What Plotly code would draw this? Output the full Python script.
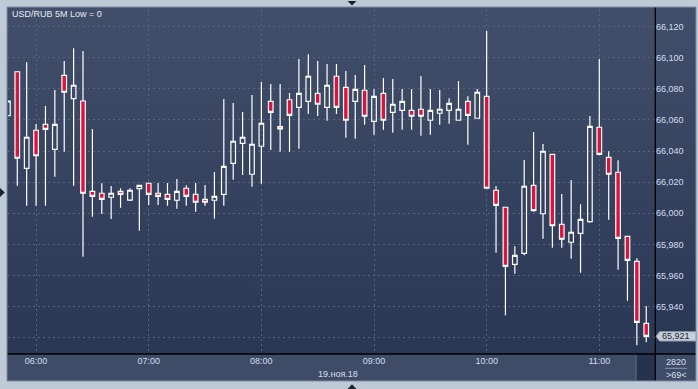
import base64
import pandas as pd
import plotly.graph_objects as go

# ---------------- data ----------------
times = pd.date_range("2018-11-19 05:45", periods=69, freq="5min")

open_ = [66.0627, 66.0910, 66.0289, 66.0534, 66.0572, 66.0411, 66.0887, 66.0737, 66.0722, 66.0141,
         66.0129, 66.0103, 66.0141, 66.0085, 66.0158, 66.0193, 66.0129, 66.0122, 66.0084, 66.0161,
         66.0122, 66.0090, 66.0084, 66.0122, 66.0321, 66.0450, 66.0251, 66.0431, 66.0720, 66.0557,
         66.0730, 66.0681, 66.0720, 66.0771, 66.0681, 66.0881, 66.0810, 66.0720, 66.0791, 66.0591,
         66.0771, 66.0649, 66.0662, 66.0662, 66.0669, 66.0598, 66.0643, 66.0662, 66.0598, 66.0720,
         66.0611, 66.0752, 66.0148, 66.0039, 65.9672, 65.9743, 66.0180, 65.9997, 66.0379, 65.9929,
         65.9814, 65.9871, 65.9946, 66.0553, 66.0360, 66.0264, 65.9852, 65.9691, 65.9293]
high = [66.0722, 66.0910, 66.0971, 66.0574, 66.0690, 66.0793, 66.0979, 66.1061, 66.1043, 66.0542,
        66.0193, 66.0175, 66.0161, 66.0161, 66.0180, 66.0193, 66.0195, 66.0195, 66.0220, 66.0180,
        66.0195, 66.0182, 66.0265, 66.0735, 66.0709, 66.0651, 66.0760, 66.0844, 66.0831, 66.0831,
        66.0773, 66.0992, 66.1022, 66.0979, 66.0960, 66.0960, 66.0915, 66.0889, 66.0953, 66.0797,
        66.0870, 66.0863, 66.0799, 66.0799, 66.0883, 66.0799, 66.0793, 66.0739, 66.0850, 66.0752,
        66.0799, 66.1172, 66.0175, 66.0039, 65.9788, 66.0343, 66.0523, 66.0445, 66.0379, 66.0124,
        66.0214, 66.0058, 66.0625, 66.0992, 66.0399, 66.0341, 65.9852, 65.9711, 65.9404]
low = [66.0627, 66.0177, 66.0049, 66.0049, 66.0049, 66.0235, 66.0396, 66.0177, 65.9721, 65.9978,
       65.9996, 65.9963, 66.0036, 66.0079, 65.9888, 66.0053, 66.0053, 66.0049, 66.0030, 66.0049,
       66.0010, 66.0049, 65.9965, 66.0049, 66.0216, 66.0246, 66.0171, 66.0190, 66.0407, 66.0396,
       66.0396, 66.0415, 66.0638, 66.0625, 66.0595, 66.0638, 66.0486, 66.0480, 66.0570, 66.0505,
       66.0537, 66.0518, 66.0537, 66.0537, 66.0499, 66.0505, 66.0570, 66.0576, 66.0598, 66.0441,
       66.0611, 66.0161, 65.9747, 65.9344, 65.9612, 65.9730, 66.0010, 65.9837, 65.9779, 65.9779,
       65.9708, 65.9618, 65.9940, 66.0373, 65.9959, 65.9637, 65.9438, 65.9151, 65.9171]
close = [66.0722, 66.0354, 66.0489, 66.0370, 66.0540, 66.0572, 66.0778, 66.0823, 66.0129, 66.0109,
         66.0090, 66.0129, 66.0122, 66.0148, 66.0180, 66.0122, 66.0109, 66.0090, 66.0141, 66.0109,
         66.0071, 66.0071, 66.0109, 66.0302, 66.0463, 66.0489, 66.0444, 66.0579, 66.0649, 66.0542,
         66.0630, 66.0771, 66.0881, 66.0701, 66.0823, 66.0681, 66.0598, 66.0797, 66.0624, 66.0752,
         66.0598, 66.0701, 66.0720, 66.0624, 66.0624, 66.0662, 66.0669, 66.0707, 66.0669, 66.0630,
         66.0778, 66.0161, 66.0051, 65.9659, 65.9730, 66.0174, 66.0017, 66.0399, 65.9920, 65.9833,
         65.9878, 65.9961, 66.0559, 66.0379, 66.0251, 65.9839, 65.9698, 65.9299, 65.9209]

y_ticks = [65.92, 65.94, 65.96, 65.98, 66.00, 66.02, 66.04, 66.06, 66.08, 66.10, 66.12]
y_labels = ["", "65,940", "65,960", "65,980", "66,000", "66,020", "66,040", "66,060",
            "66,080", "66,100", "66,120"]
title_text = "USD/RUB 5M Low = 0"
date_text = "19.ноя.18"
count_text = "2820"
visible_text = ">69<"

# ---------------- layout helpers ----------------
W, H = 698, 389
L, R, T, B = 8, 43, 9, 35
PW, PH = W - L - R, H - T - B


def px(x):
    return (x - L) / PW


def py(y):
    return (H - B - y) / PH


FONT = "Liberation Sans, Arial, sans-serif"
FS = 9
TXT = "#d2def0"

fig = go.Figure()
fig.add_trace(go.Candlestick(
    x=times, open=open_, high=high, low=low, close=close,
    increasing=dict(line=dict(color="#ffffff", width=1.2), fillcolor="rgba(0,0,0,0)"),
    decreasing=dict(line=dict(color="#ffffff", width=1.2), fillcolor="#dc143c"),
    whiskerwidth=0, hoverinfo="skip", showlegend=False,
))

svg = ('<svg xmlns="http://www.w3.org/2000/svg" width="10" height="100" preserveAspectRatio="none">'
       '<defs><linearGradient id="g" x1="0" y1="0" x2="0" y2="1">'
       '<stop offset="0" stop-color="#414f6a"/><stop offset="1" stop-color="#293755"/>'
       '</linearGradient></defs><rect width="10" height="100" fill="url(#g)"/></svg>')
src = "data:image/svg+xml;base64," + base64.b64encode(svg.encode()).decode()

fig.update_layout(
    width=W, height=H,
    margin=dict(l=L, r=R, t=T, b=B, pad=0),
    paper_bgcolor="#bfcad7",
    plot_bgcolor="rgba(0,0,0,0)",
    font=dict(family=FONT, size=FS, color=TXT),
    images=[dict(source=src, xref="paper", yref="paper", x=px(7), y=py(7),
                 sizex=px(696) - px(7), sizey=py(7) - py(354), sizing="stretch",
                 xanchor="left", yanchor="top", layer="below")],
    xaxis=dict(
        type="date",
        range=[pd.Timestamp("2018-11-19 05:45:03"), pd.Timestamp("2018-11-19 11:29:40")],
        dtick=3600000, tick0="2018-11-19 06:00", tickformat="%H:%M",
        showgrid=True, gridcolor="#56647e", griddash="2px,3px", gridwidth=1,
        zeroline=False, showline=False, ticks="", ticklen=0,
        tickfont=dict(family=FONT, size=FS, color=TXT),
        rangeslider=dict(visible=False), fixedrange=True,
    ),
    yaxis=dict(
        side="right", range=[65.90955, 66.13133],
        tickvals=y_ticks, ticktext=y_labels,
        showgrid=True, gridcolor="#56647e", griddash="2px,3px", gridwidth=1,
        zeroline=False, showline=False, ticks="", ticklen=0,
        tickfont=dict(family=FONT, size=FS, color=TXT), fixedrange=True,
    ),
)

shapes = []
# bottom time panel
shapes.append(dict(type="rect", xref="paper", yref="paper", x0=px(7), x1=px(696),
                   y0=py(381), y1=py(354), fillcolor="#3e4c67", line=dict(width=0), layer="below"))
# dark scroll block
shapes.append(dict(type="rect", xref="paper", yref="paper", x0=px(636.5), x1=px(655),
                   y0=py(381), y1=py(354), fillcolor="#26334d", line=dict(width=0), layer="below"))
shapes.append(dict(type="line", xref="paper", yref="paper", x0=px(636), x1=px(636),
                   y0=py(380), y1=py(355), line=dict(color="#5d6b84", width=1)))
# separator under count
shapes.append(dict(type="line", xref="paper", yref="paper", x0=px(665), x1=px(687),
                   y0=py(368.3), y1=py(368.3), line=dict(color="#8a9ab2", width=1)))
# black axis lines
shapes.append(dict(type="line", xref="paper", yref="paper", x0=px(7), x1=px(696),
                   y0=py(354), y1=py(354), line=dict(color="#000000", width=1.3)))
shapes.append(dict(type="line", xref="paper", yref="paper", x0=px(655.3), x1=px(655.3),
                   y0=py(7), y1=py(381), line=dict(color="#000000", width=1.3)))
# outer border
shapes.append(dict(type="rect", xref="paper", yref="paper", x0=px(7), x1=px(696),
                   y0=py(381), y1=py(7), line=dict(color="#7f8ea4", width=1),
                   fillcolor="rgba(0,0,0,0)"))
# price tag
last = close[-1]
dy = 4.7 * (66.13133 - 65.90955) / PH
shapes.append(dict(type="path", xref="paper", yref="y",
                   path=(f"M {px(659.5)},{last + dy} L {px(696)},{last + dy} L {px(696)},{last - dy} "
                         f"L {px(659.5)},{last - dy} L {px(656)},{last} Z"),
                   fillcolor="#c6cfd9", line=dict(color="#8896aa", width=1)))
# frame triangles
tri = "#1c2433"
shapes.append(dict(type="path", xref="paper", yref="paper",
                   path=f"M {px(347.5)},{py(1)} L {px(356.5)},{py(1)} L {px(352)},{py(5.5)} Z",
                   fillcolor=tri, line=dict(width=0)))
shapes.append(dict(type="path", xref="paper", yref="paper",
                   path=f"M {px(347.5)},{py(389)} L {px(356.5)},{py(389)} L {px(352)},{py(384.3)} Z",
                   fillcolor=tri, line=dict(width=0)))
shapes.append(dict(type="path", xref="paper", yref="paper",
                   path=f"M {px(0)},{py(188)} L {px(0)},{py(197)} L {px(4.8)},{py(192.5)} Z",
                   fillcolor=tri, line=dict(width=0)))
fig.update_layout(shapes=shapes)

ann = [
    dict(text=title_text, x=px(10), y=py(14), xref="paper", yref="paper", showarrow=False,
         xanchor="left", yanchor="middle", font=dict(family=FONT, size=FS, color="#e4ebf3")),
    dict(text=date_text, x=px(338), y=py(373.7), xref="paper", yref="paper", showarrow=False,
         xanchor="center", yanchor="middle", font=dict(family=FONT, size=FS, color=TXT)),
    dict(text=count_text, x=px(676.5), y=py(361.8), xref="paper", yref="paper", showarrow=False,
         xanchor="center", yanchor="middle", font=dict(family=FONT, size=FS, color=TXT)),
    dict(text=visible_text, x=px(676.5), y=py(374.5), xref="paper", yref="paper", showarrow=False,
         xanchor="center", yanchor="middle", font=dict(family=FONT, size=FS, color=TXT)),
    dict(text=f"{last:.3f}".replace(".", ","), x=px(660), y=last, xref="paper", yref="y",
         showarrow=False, xanchor="left", yanchor="middle",
         font=dict(family=FONT, size=FS, color="#1a2638")),
]
fig.update_layout(annotations=ann)

fig.write_html("out.html", config={"displayModeBar": False})
